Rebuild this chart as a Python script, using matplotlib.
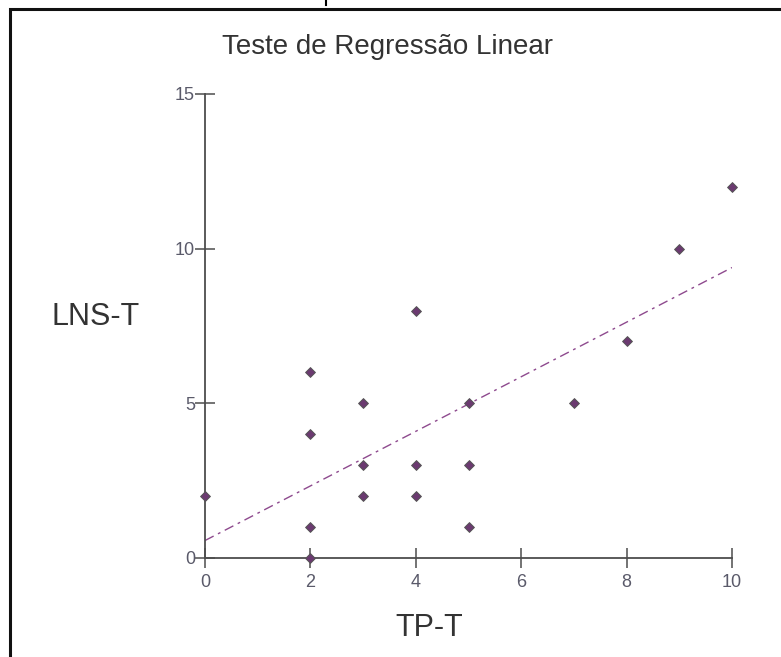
import matplotlib.pyplot as plt
from matplotlib.patches import Rectangle
from matplotlib.lines import Line2D
import numpy as np

# data
tp_t = [0, 2, 2, 2, 2, 3, 3, 3, 4, 4, 4, 5, 5, 5, 7, 8, 9, 10]
lns_t = [2, 6, 4, 1, 0, 5, 3, 2, 8, 3, 2, 5, 3, 1, 5, 7, 10, 12]
x_ticks = [0, 2, 4, 6, 8, 10]
y_ticks = [0, 5, 10, 15]

plt.rcParams['font.family'] = ['Liberation Sans', 'DejaVu Sans']

fig = plt.figure(figsize=(7.81, 6.57), dpi=100)
W, H = 781, 657

# frame around the picture and the cut off mark at the top
fig.patches.append(Rectangle((10 / W, -0.1), 1.2, 1 - 9 / H + 0.1, transform=fig.transFigure,
                             fill=False, edgecolor='#111111', linewidth=2.2))
fig.lines.append(Line2D([326 / W, 326 / W], [1, 1 - 5 / H], transform=fig.transFigure,
                        color='black', linewidth=1.5))

ax = fig.add_axes([205 / W, 1 - 558 / H, (732 - 205) / W, (558 - 94) / H])
ax.set_xlim(0, 10)
ax.set_ylim(0, 15)

# regression line
slope, intercept = np.polyfit(tp_t, lns_t, 1)
xs = np.array([0, 10])
ax.plot(xs, intercept + slope * xs, color='#8e4a8e', linewidth=1.0,
        dashes=(7, 3.5, 2, 3.5), zorder=2)

ax.scatter(tp_t, lns_t, marker='D', s=25, color='#6b3a70', edgecolors='#555555',
           linewidths=0.7, zorder=3, clip_on=False)

for side in ['top', 'right']:
    ax.spines[side].set_visible(False)
for side in ['left', 'bottom']:
    ax.spines[side].set_color('#4d4d4d')
    ax.spines[side].set_linewidth(1.3)

ax.set_xticks(x_ticks)
ax.set_yticks(y_ticks)
ax.tick_params(direction='inout', length=14.5, width=1.1, color='#4d4d4d',
               labelcolor='#5a5a6a', labelsize=13)
ax.tick_params(axis='x', pad=4)
ax.tick_params(axis='y', pad=0)

fig.text(388 / W, 1 - 47 / H, 'Teste de Regressão Linear', ha='center', va='center',
         fontsize=20, color='#333333')
fig.text(96 / W, 1 - 317 / H, 'LNS-T', ha='center', va='center', fontsize=22, color='#333333')
fig.text(429 / W, 1 - 628 / H, 'TP-T', ha='center', va='center', fontsize=22, color='#333333')

fig.savefig('out.png', dpi=100)
